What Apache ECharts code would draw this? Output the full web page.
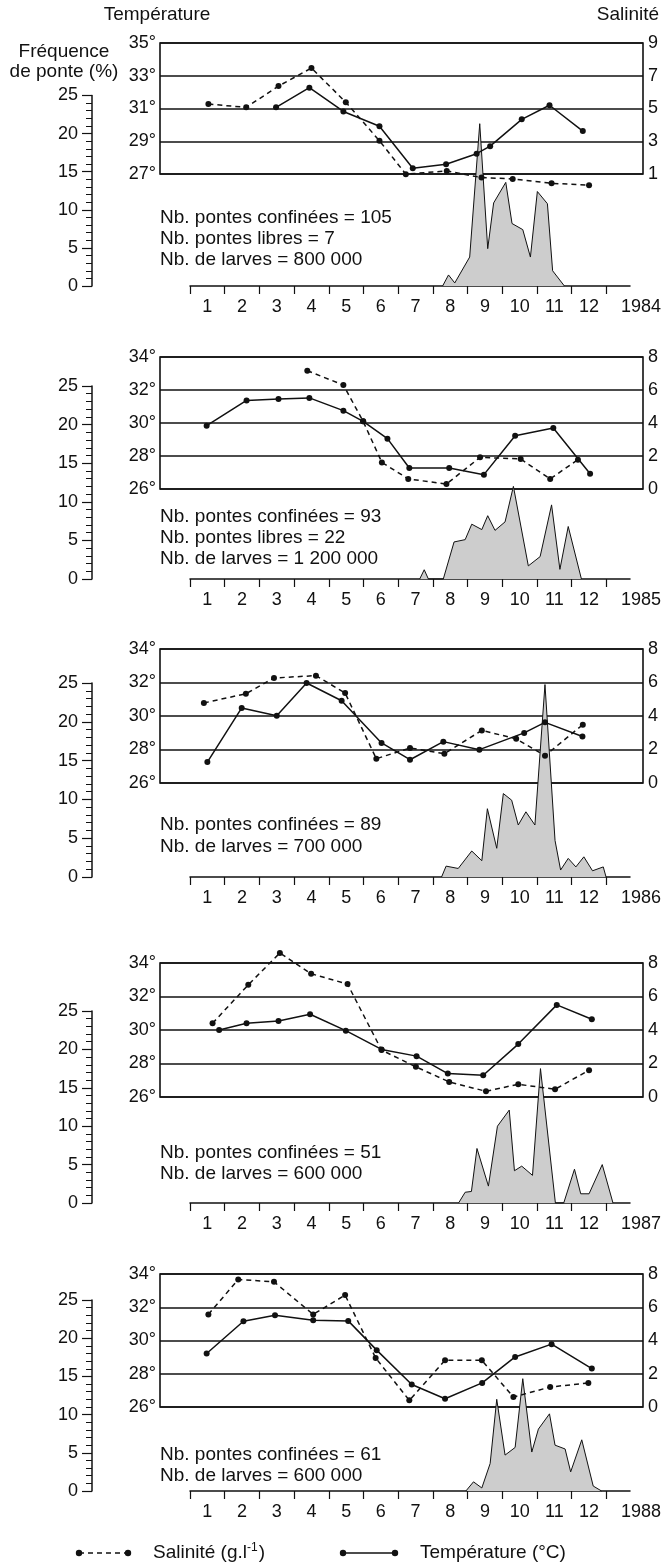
<!DOCTYPE html>
<html>
<head>
<meta charset="utf-8">
<script src="https://cdn.jsdelivr.net/npm/echarts@6/dist/echarts.min.js"></script>
<style>
  html, body { margin: 0; padding: 0; background: #fff; }
  #chart { width: 667px; height: 1565px; }
</style>
</head>
<body>
<div id="chart"></div>
<script>
// ---- Data: month positions are fractional (sampling date within the month) ----
const years = ['1984', '1985', '1986', '1987', '1988'];
const monthLabels = [1, 2, 3, 4, 5, 6, 7, 8, 9, 10, 11, 12];
const monthBounds = [0.5, 1.5, 2.5, 3.5, 4.5, 5.5, 6.5, 7.5, 8.5, 9.5, 10.5, 11.5, 12.5];

// 1984
const temp1984X = [2.98, 3.94, 4.92, 5.96, 6.92, 7.88, 8.76, 9.15, 10.06, 10.86, 11.82];
const temp1984  = [31.07, 32.27, 30.82, 29.92, 27.35, 27.6, 28.24, 28.7, 30.34, 31.2, 29.62];
const sal1984X  = [1.03, 2.12, 3.05, 4.0, 4.99, 5.96, 6.72, 7.9, 8.9, 9.8, 10.92, 12.0];
const sal1984   = [5.27, 5.07, 6.37, 7.47, 5.38, 3.03, 0.99, 1.19, 0.78, 0.7, 0.43, 0.32];
const ponte1984X = [7.78, 7.95, 8.13, 8.56, 8.85, 9.08, 9.25, 9.6, 9.78, 10.09, 10.31, 10.51, 10.8, 10.95, 11.29];
const ponte1984  = [0, 1.45, 0.4, 3.8, 21.3, 4.9, 10.9, 13.6, 8.2, 7.4, 3.8, 12.4, 10.8, 2.0, 0];

// 1985
const temp1985X = [0.98, 2.13, 3.05, 3.94, 4.92, 5.49, 6.19, 6.82, 7.97, 8.97, 9.87, 10.97, 12.03];
const temp1985  = [29.84, 31.37, 31.45, 31.52, 30.75, 30.1, 29.05, 27.27, 27.27, 26.87, 29.23, 29.7, 26.93];
const sal1985X  = [3.88, 4.92, 5.49, 6.03, 6.79, 7.89, 8.86, 10.03, 10.88, 11.68];
const sal1985   = [7.17, 6.3, 4.1, 1.61, 0.61, 0.3, 1.92, 1.82, 0.61, 1.78];
const ponte1985X = [7.12, 7.25, 7.37, 7.8, 8.11, 8.43, 8.62, 8.91, 9.08, 9.29, 9.58, 9.82, 10.25, 10.59, 10.92, 11.16, 11.4, 11.78];
const ponte1985  = [0, 1.2, 0, 0, 4.8, 5.1, 7.1, 6.4, 8.2, 6.3, 7.4, 12.0, 1.7, 2.9, 9.6, 1.25, 6.8, 0];

// 1986
const temp1986X = [1.0, 1.99, 3.0, 3.86, 4.87, 6.02, 6.84, 7.8, 8.84, 10.13, 10.73, 11.81];
const temp1986  = [27.25, 30.48, 30.02, 31.97, 30.91, 28.39, 27.39, 28.47, 27.99, 28.99, 29.62, 28.78];
const sal1986X  = [0.9, 2.11, 2.92, 4.13, 4.97, 5.87, 6.84, 7.83, 8.91, 9.9, 10.73, 11.82];
const sal1986   = [4.78, 5.33, 6.27, 6.41, 5.37, 1.45, 2.09, 1.75, 3.14, 2.64, 1.63, 3.48];
const ponte1986X = [7.75, 7.88, 8.23, 8.62, 8.91, 9.07, 9.34, 9.53, 9.77, 9.96, 10.18, 10.44, 10.73, 11.02, 11.18, 11.4, 11.62, 11.85, 12.1, 12.41, 12.49];
const ponte1986  = [0, 1.4, 1.1, 3.35, 2.1, 8.8, 3.7, 10.75, 9.9, 6.7, 8.4, 6.7, 24.8, 4.7, 0.9, 2.4, 1.3, 2.6, 0.8, 1.3, 0];

// 1987
const temp1987X = [1.34, 2.13, 3.05, 3.96, 4.99, 6.02, 7.03, 7.93, 8.95, 9.96, 11.07, 12.08];
const temp1987  = [30.0, 30.4, 30.54, 30.94, 29.96, 28.84, 28.44, 27.4, 27.3, 29.16, 31.5, 30.64];
const sal1987X  = [1.15, 2.18, 3.09, 3.99, 5.04, 6.02, 7.01, 7.97, 9.03, 9.96, 11.02, 12.0];
const sal1987   = [4.4, 6.7, 8.6, 7.36, 6.74, 2.8, 1.8, 0.9, 0.34, 0.76, 0.46, 1.6];
const ponte1987X = [8.24, 8.43, 8.61, 8.77, 9.1, 9.36, 9.7, 9.85, 10.06, 10.37, 10.6, 11.03, 11.27, 11.58, 11.76, 12.0, 12.38, 12.69];
const ponte1987  = [0, 1.4, 1.5, 7.1, 2.2, 10.0, 12.1, 4.2, 4.8, 3.6, 17.5, 0, 0, 4.4, 1.2, 1.2, 5.0, 0];

// 1988
const temp1988X = [0.98, 2.04, 2.95, 4.05, 5.06, 5.88, 6.89, 7.85, 8.92, 9.87, 10.92, 12.08];
const temp1988  = [29.22, 31.16, 31.52, 31.22, 31.18, 29.42, 27.35, 26.5, 27.45, 29.01, 29.78, 28.31];
const sal1988X  = [1.03, 1.89, 2.92, 4.05, 4.97, 5.85, 6.82, 7.85, 8.91, 9.82, 10.88, 11.98];
const sal1988   = [5.57, 7.67, 7.53, 5.57, 6.73, 2.95, 0.4, 2.81, 2.81, 0.6, 1.2, 1.45];
const ponte1988X = [8.45, 8.67, 8.91, 9.15, 9.34, 9.58, 9.87, 10.09, 10.35, 10.54, 10.86, 11.02, 11.31, 11.47, 11.79, 12.12, 12.36];
const ponte1988  = [0, 1.2, 0.4, 3.6, 12.0, 4.7, 5.7, 14.7, 5.1, 8.1, 10.1, 6.0, 5.5, 2.5, 6.7, 0.65, 0];

// Scale ranges for each year: temperature box (°C) and salinity (g/l)
const tempMin = [27, 26, 26, 26, 26];
const salMin  = [1, 0, 0, 0, 0];
const ponteMax = 25;

// Counts printed inside each panel
const notes = [
  ['Nb. pontes confinées = 105', 'Nb. pontes libres = 7', 'Nb. de larves = 800 000'],
  ['Nb. pontes confinées = 93', 'Nb. pontes libres = 22', 'Nb. de larves = 1 200 000'],
  ['Nb. pontes confinées = 89', 'Nb. de larves = 700 000'],
  ['Nb. pontes confinées = 51', 'Nb. de larves = 600 000'],
  ['Nb. pontes confinées = 61', 'Nb. de larves = 600 000']
];

const tempX = [temp1984X, temp1985X, temp1986X, temp1987X, temp1988X];
const tempV = [temp1984, temp1985, temp1986, temp1987, temp1988];
const salX  = [sal1984X, sal1985X, sal1986X, sal1987X, sal1988X];
const salV  = [sal1984, sal1985, sal1986, sal1987, sal1988];
const ponteX = [ponte1984X, ponte1985X, ponte1986X, ponte1987X, ponte1988X];
const ponteV = [ponte1984, ponte1985, ponte1986, ponte1987, ponte1988];

// ---- Layout (pixels) ----
const FONT = '"Liberation Sans", Arial, sans-serif';
const INK = '#111';
const X0 = 172.65, MW = 34.7;            // x of month 0, pixels per month
const BOX_L = 160, BOX_R = 643;          // temperature box
const AX_L = 190, AX_R = 630;            // month axis line
const FREQ_X = 92;                       // spawning-frequency axis line
const mAt = px => (px - X0) / MW;

const layout = [
  { boxTop: 43,   boxBottom: 174,  fTop: 95.5, fBottom: 286,  notesY: [218, 239, 260] },
  { boxTop: 357,  boxBottom: 489,  fTop: 386,  fBottom: 579,  notesY: [517, 538, 559] },
  { boxTop: 649,  boxBottom: 783,  fTop: 683,  fBottom: 877,  notesY: [825, 847] },
  { boxTop: 963,  boxBottom: 1097, fTop: 1011, fBottom: 1203, notesY: [1153, 1174] },
  { boxTop: 1274, boxBottom: 1407, fTop: 1300, fBottom: 1491, notesY: [1455, 1476] }
];

const zip = (xs, ys) => xs.map((x, i) => [x, ys[i]]);
const labelStyle = { color: INK, fontSize: 18, fontFamily: FONT };

const grid = [], xAxis = [], yAxis = [], series = [], graphic = [];

layout.forEach((p, k) => {
  const gA = grid.length;
  // temperature / salinity box
  grid.push({
    left: BOX_L, width: BOX_R - BOX_L, top: p.boxTop, height: p.boxBottom - p.boxTop,
    show: true, borderColor: INK, borderWidth: 1.6, backgroundColor: 'transparent'
  });
  xAxis.push({ gridIndex: gA, type: 'value', min: mAt(BOX_L), max: mAt(BOX_R), show: false });
  const yTemp = yAxis.length;
  yAxis.push({
    gridIndex: gA, type: 'value', position: 'left',
    min: tempMin[k], max: tempMin[k] + 8, interval: 2,
    axisLine: { show: false, onZero: false }, axisTick: { show: false },
    splitLine: { show: true, lineStyle: { color: INK, width: 1.6 } },
    axisLabel: Object.assign({ formatter: '{value}°', margin: 4 }, labelStyle)
  });
  const ySal = yAxis.length;
  yAxis.push({
    gridIndex: gA, type: 'value', position: 'right',
    min: salMin[k], max: salMin[k] + 8, interval: 2,
    axisLine: { show: false, onZero: false }, axisTick: { show: false },
    splitLine: { show: false },
    axisLabel: Object.assign({ margin: 5 }, labelStyle)
  });

  // spawning frequency with the month axis
  const gB = grid.length;
  grid.push({ left: AX_L, width: AX_R - AX_L, top: p.fTop, height: p.fBottom - p.fTop });
  xAxis.push({
    gridIndex: gB, type: 'value', min: 0.5, max: mAt(AX_R), position: 'bottom',
    axisLine: { show: true, onZero: false, lineStyle: { color: INK, width: 1.5 } },
    axisTick: { show: true, customValues: monthBounds, length: 8, lineStyle: { color: INK, width: 1.2 } },
    axisLabel: Object.assign({ customValues: monthLabels, margin: 12 }, labelStyle),
    splitLine: { show: false }
  });
  const yFreq = yAxis.length;
  yAxis.push({
    gridIndex: gB, type: 'value', position: 'left', offset: AX_L - FREQ_X,
    min: 0, max: ponteMax, interval: 5,
    axisLine: { show: true, onZero: false, lineStyle: { color: INK, width: 1.5 } },
    axisTick: { show: true, length: 10, lineStyle: { color: INK, width: 1.2 } },
    minorTick: { show: true, splitNumber: 5, length: 6, lineStyle: { color: INK, width: 1 } },
    splitLine: { show: false }, minorSplitLine: { show: false },
    axisLabel: Object.assign({ margin: 14 }, labelStyle)
  });

  series.push({
    type: 'line', xAxisIndex: gB, yAxisIndex: yFreq, data: zip(ponteX[k], ponteV[k]),
    symbol: 'none', clip: false, z: 2,
    lineStyle: { color: INK, width: 1 },
    areaStyle: { color: '#cdcdcd', opacity: 1 }
  });
  series.push({
    type: 'line', xAxisIndex: gA, yAxisIndex: ySal, data: zip(salX[k], salV[k]),
    symbol: 'circle', symbolSize: 6, showAllSymbol: true, clip: false, z: 4,
    itemStyle: { color: INK }, lineStyle: { color: INK, width: 1.5, type: [5, 4] }
  });
  series.push({
    type: 'line', xAxisIndex: gA, yAxisIndex: yTemp, data: zip(tempX[k], tempV[k]),
    symbol: 'circle', symbolSize: 6, showAllSymbol: true, clip: false, z: 5,
    itemStyle: { color: INK }, lineStyle: { color: INK, width: 1.5 }
  });

  // year at the end of the month axis
  graphic.push({
    type: 'text', left: 621, top: p.fBottom + 12,
    style: { text: years[k], fill: INK, font: '18px ' + FONT }
  });
  // counts
  notes[k].forEach((t, i) => {
    graphic.push({
      type: 'text', x: BOX_L, y: p.notesY[i],
      style: { text: t, fill: INK, font: '19px ' + FONT, verticalAlign: 'middle' }
    });
  });
});

// axis titles
const titleText = (t, x, y) => ({
  type: 'text', x: x, y: y,
  style: { text: t, fill: INK, font: '19px ' + FONT, align: 'center', verticalAlign: 'middle' }
});
graphic.push(titleText('Température', 157, 15));
graphic.push(titleText('Salinité', 628, 15));
graphic.push(titleText('Fréquence', 64, 52));
graphic.push(titleText('de ponte (%)', 64, 72));

// legend
const LY = 1553;
const dot = x => ({ type: 'circle', shape: { cx: x, cy: LY, r: 3.2 }, style: { fill: INK } });
graphic.push({ type: 'line', shape: { x1: 79, y1: LY, x2: 128, y2: LY }, style: { stroke: INK, lineWidth: 1.5, lineDash: [5, 4] } });
graphic.push(dot(79), dot(128));
graphic.push({
  type: 'text', x: 153, y: LY,
  style: {
    text: '{a|Salinité (g.l}{s|-1}{a|)}', verticalAlign: 'middle', fill: INK,
    rich: {
      a: { fontSize: 19, fontFamily: FONT, fill: INK, lineHeight: 22 },
      s: { fontSize: 12, fontFamily: FONT, fill: INK, lineHeight: 22, verticalAlign: 'top', padding: [0, 1, 8, 0] }
    }
  }
});
graphic.push({ type: 'line', shape: { x1: 343, y1: LY, x2: 395, y2: LY }, style: { stroke: INK, lineWidth: 1.5 } });
graphic.push(dot(343), dot(395));
graphic.push({
  type: 'text', x: 420, y: LY,
  style: { text: 'Température (°C)', fill: INK, font: '19px ' + FONT, verticalAlign: 'middle' }
});

const chart = echarts.init(document.getElementById('chart'), null, { renderer: 'canvas' });
chart.setOption({
  animation: false,
  backgroundColor: '#fff',
  grid: grid,
  xAxis: xAxis,
  yAxis: yAxis,
  series: series,
  graphic: graphic
});
</script>
</body>
</html>
